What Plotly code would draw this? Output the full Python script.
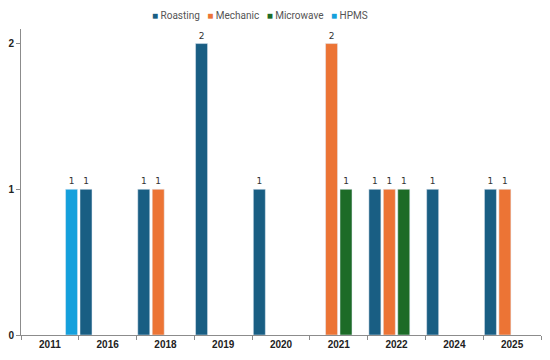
import plotly.graph_objects as go

years = ["2011", "2016", "2018", "2019", "2020", "2021", "2022", "2024", "2025"]
roasting = [None, 1, 1, 2, 1, None, 1, 1, 1]
mechanic = [None, None, 1, None, None, 2, 1, None, 1]
microwave = [None, None, None, None, None, 1, 1, None, None]
hpms = [1, None, None, None, None, None, None, None, None]

series = [
    ("Roasting", roasting, "#195e83"),
    ("Mechanic", mechanic, "#ec7435"),
    ("Microwave", microwave, "#1d6b27"),
    ("HPMS", hpms, "#14a0dc"),
]

label_font = dict(size=9, color="#333333", family="DejaVu Sans")

fig = go.Figure()
for name, vals, col in series:
    fig.add_trace(go.Bar(
        name=name, x=years, y=vals, marker_color=col,
        texttemplate="%{y}", textposition="outside", cliponaxis=False,
        textfont=label_font, outsidetextfont=label_font,
        showlegend=False,
    ))

legend_html = "   ".join(
    f"<span style='color:{col}'>■</span> {name}" for name, _, col in series
)
fig.add_annotation(
    text=legend_html, xref="paper", yref="paper", x=0.46, y=1.0686,
    xanchor="center", yanchor="top", showarrow=False,
    font=dict(size=10, color="#555555", family="Roboto"),
)

fig.update_layout(
    width=542, height=352,
    margin=dict(l=13, r=9, t=21, b=25, autoexpand=False),
    barmode="group", bargap=0, bargroupgap=0.17,
    plot_bgcolor="white", paper_bgcolor="white",
    hovermode=False,
    xaxis=dict(type="category", showline=True, linecolor="#8c8c8c", linewidth=1,
               ticks="outside", tickson="boundaries", ticklen=4, tickcolor="#8c8c8c",
               tickfont=dict(size=10, color="#222222", family="Liberation Sans", weight="bold"),
               showgrid=False, automargin=False),
    yaxis=dict(range=[0, 2.1], tickvals=[0, 1, 2], showline=True, linecolor="#8c8c8c",
               linewidth=1, ticks="outside", ticklen=4, tickcolor="#8c8c8c",
               tickfont=dict(size=10, color="#222222", family="Liberation Sans", weight="bold"),
               showgrid=False, zeroline=False, automargin=False),
)

fig.write_html("out.html")
